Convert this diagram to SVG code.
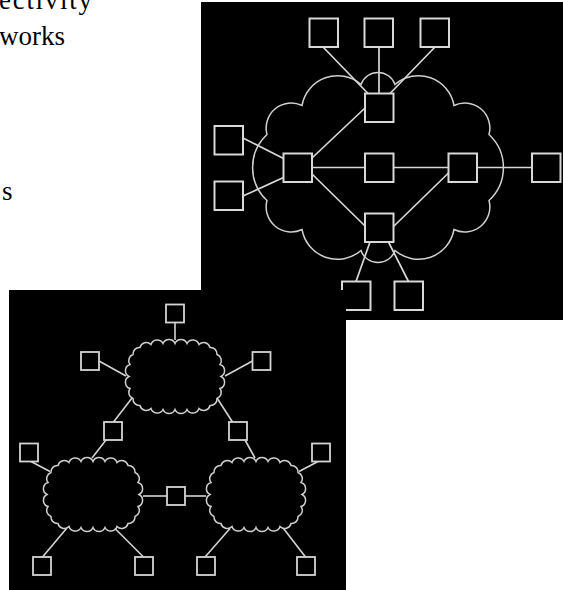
<svg xmlns="http://www.w3.org/2000/svg" width="563" height="590" viewBox="0 0 563 590">
<style>
.bg{fill:#000}
.t{font-family:"Liberation Serif","Times New Roman",serif;font-size:27px;fill:#000}
.bx{fill:#000;stroke:#d8d8d8;stroke-width:2}
.ln{stroke:#d8d8d8;stroke-width:1.7;fill:none}
.cl{fill:none;stroke:#d0d0d0;stroke-width:1.5}
.bx2{fill:#000;stroke:#d4d4d4;stroke-width:1.8}
.ln2{stroke:#d4d4d4;stroke-width:1.6;fill:none}
.cl2{fill:none;stroke:#cfcfcf;stroke-width:1.5}
</style>
<defs>
<path id="cloudS" class="cl2" d="M0,-33 A6.5 6.5 0 0 1 12,-33 A6.5 6.5 0 0 1 24,-32 A6.5 6.5 0 0 1 35,-29 A6.5 6.5 0 0 1 42,-22 A6.5 6.5 0 0 1 45,-12 A6.5 6.5 0 0 1 46,0 A6.5 6.5 0 0 1 45,12 A6.5 6.5 0 0 1 42,22 A6.5 6.5 0 0 1 35,29 A6.5 6.5 0 0 1 24,32 A6.5 6.5 0 0 1 12,33 A6.5 6.5 0 0 1 0,33 A6.5 6.5 0 0 1 -12,33 A6.5 6.5 0 0 1 -24,32 A6.5 6.5 0 0 1 -35,29 A6.5 6.5 0 0 1 -42,22 A6.5 6.5 0 0 1 -45,12 A6.5 6.5 0 0 1 -46,0 A6.5 6.5 0 0 1 -45,-12 A6.5 6.5 0 0 1 -42,-22 A6.5 6.5 0 0 1 -35,-29 A6.5 6.5 0 0 1 -24,-32 A6.5 6.5 0 0 1 -12,-33 A6.5 6.5 0 0 1 0,-33 Z"/>
</defs>

<g id="text">
<text class="t" x="-1" y="9" textLength="93" lengthAdjust="spacing">ectivity</text>
<text class="t" x="-1" y="45">works</text>
<text class="t" x="2" y="200">s</text>
</g>

<g id="panel-top">
<rect class="bg" x="201" y="2" width="362" height="318"/>
<g id="connectors-top">
<line class="ln" x1="323" y1="47" x2="368" y2="93.5"/>
<line class="ln" x1="379" y1="47" x2="379" y2="93.5"/>
<line class="ln" x1="435" y1="47" x2="390" y2="93.5"/>
<line class="ln" x1="365" y1="108" x2="312" y2="158"/>
<line class="ln" x1="312" y1="167.5" x2="365" y2="167.5"/>
<line class="ln" x1="393.5" y1="167.5" x2="448.5" y2="167.5"/>
<line class="ln" x1="477" y1="167.5" x2="532" y2="167.5"/>
<line class="ln" x1="312" y1="174" x2="365" y2="226"/>
<line class="ln" x1="393.5" y1="226.5" x2="448.5" y2="173"/>
<line class="ln" x1="243" y1="138" x2="283.5" y2="158.5"/>
<line class="ln" x1="243" y1="196" x2="283.5" y2="177.5"/>
<line class="ln" x1="370" y1="242" x2="356" y2="281.5"/>
<line class="ln" x1="388.5" y1="242" x2="408.5" y2="281.5"/>
</g>
<g id="cloud-big">
<path class="cl" d="M361,84.5 A18 18 0 0 1 395,84.5 A36 36 0 0 1 454,105.5 A25 25 0 0 1 489,134.5 A45 45 0 0 1 489,200.5 A25 25 0 0 1 454,229.5 A36 36 0 0 1 395,250.5 A18 18 0 0 1 361,250.5 A36 36 0 0 1 302,229.5 A25 25 0 0 1 267,200.5 A45 45 0 0 1 267,134.5 A25 25 0 0 1 302,105.5 A36 36 0 0 1 361,84.5 Z"/>
</g>
<g id="n-t1"><rect class="bx" x="309.5" y="18.5" width="28.5" height="28.5"/></g>
<g id="n-t2"><rect class="bx" x="364.5" y="18.5" width="28.5" height="28.5"/></g>
<g id="n-t3"><rect class="bx" x="420.5" y="18.5" width="28.5" height="28.5"/></g>
<g id="n-h1"><rect class="bx" x="365" y="93.5" width="28.5" height="28.5"/></g>
<g id="n-l1"><rect class="bx" x="214.5" y="126" width="28.5" height="28.5"/></g>
<g id="n-l2"><rect class="bx" x="214.5" y="181.5" width="28.5" height="28.5"/></g>
<g id="n-h2"><rect class="bx" x="283.5" y="153.5" width="28.5" height="28.5"/></g>
<g id="n-c"><rect class="bx" x="365" y="153.5" width="28.5" height="28.5"/></g>
<g id="n-h3"><rect class="bx" x="448.5" y="153.5" width="28.5" height="28.5"/></g>
<g id="n-r"><rect class="bx" x="532" y="153.5" width="28.5" height="28.5"/></g>
<g id="n-h4"><rect class="bx" x="365" y="213.5" width="28.5" height="28.5"/></g>
<g id="n-b1"><rect class="bx" x="342" y="281.5" width="28.5" height="28.5"/></g>
<g id="n-b2"><rect class="bx" x="394.5" y="281.5" width="28.5" height="28.5"/></g>
</g>

<g id="panel-bottom">
<rect class="bg" x="9" y="290" width="337" height="300"/>
<g id="connectors-bottom">
<line class="ln2" x1="175" y1="322.5" x2="175" y2="340"/>
<line class="ln2" x1="99" y1="361" x2="126" y2="376"/>
<line class="ln2" x1="252.5" y1="361" x2="225" y2="376"/>
<line class="ln2" x1="132" y1="398" x2="113.5" y2="422"/>
<line class="ln2" x1="217" y1="398" x2="232.5" y2="422"/>
<line class="ln2" x1="106" y1="440" x2="92" y2="458"/>
<line class="ln2" x1="245" y1="440" x2="255" y2="458"/>
<line class="ln2" x1="31" y1="461.5" x2="50" y2="471.5"/>
<line class="ln2" x1="318" y1="461.5" x2="299" y2="471.5"/>
<line class="ln2" x1="143" y1="496" x2="167" y2="496"/>
<line class="ln2" x1="185" y1="496" x2="206" y2="496"/>
<line class="ln2" x1="66.5" y1="528.5" x2="42.5" y2="557"/>
<line class="ln2" x1="115" y1="528.5" x2="143.5" y2="557"/>
<line class="ln2" x1="230" y1="528.5" x2="205" y2="557"/>
<line class="ln2" x1="283.5" y1="528.5" x2="305.5" y2="557"/>
</g>
<g id="cloud-top"><use href="#cloudS" x="175" y="376.5"/></g>
<g id="cloud-left"><use href="#cloudS" x="93" y="494.5"/></g>
<g id="cloud-right"><use href="#cloudS" x="256" y="494.5"/></g>
<g id="m-top"><rect class="bx2" x="166" y="304.5" width="18" height="18"/></g>
<g id="m-ul"><rect class="bx2" x="81" y="352" width="18" height="18"/></g>
<g id="m-ur"><rect class="bx2" x="252.5" y="352" width="18" height="18"/></g>
<g id="m-ml"><rect class="bx2" x="104" y="422" width="18" height="18"/></g>
<g id="m-mr"><rect class="bx2" x="229" y="422" width="18" height="18"/></g>
<g id="m-fl"><rect class="bx2" x="20" y="443.5" width="18" height="18"/></g>
<g id="m-fr"><rect class="bx2" x="312" y="443.5" width="18" height="18"/></g>
<g id="m-cb"><rect class="bx2" x="167" y="487" width="18" height="18"/></g>
<g id="m-b1"><rect class="bx2" x="33" y="557" width="18" height="18"/></g>
<g id="m-b2"><rect class="bx2" x="135" y="557" width="18" height="18"/></g>
<g id="m-b3"><rect class="bx2" x="197" y="557" width="18" height="18"/></g>
<g id="m-b4"><rect class="bx2" x="297" y="557" width="18" height="18"/></g>
</g>
</svg>
